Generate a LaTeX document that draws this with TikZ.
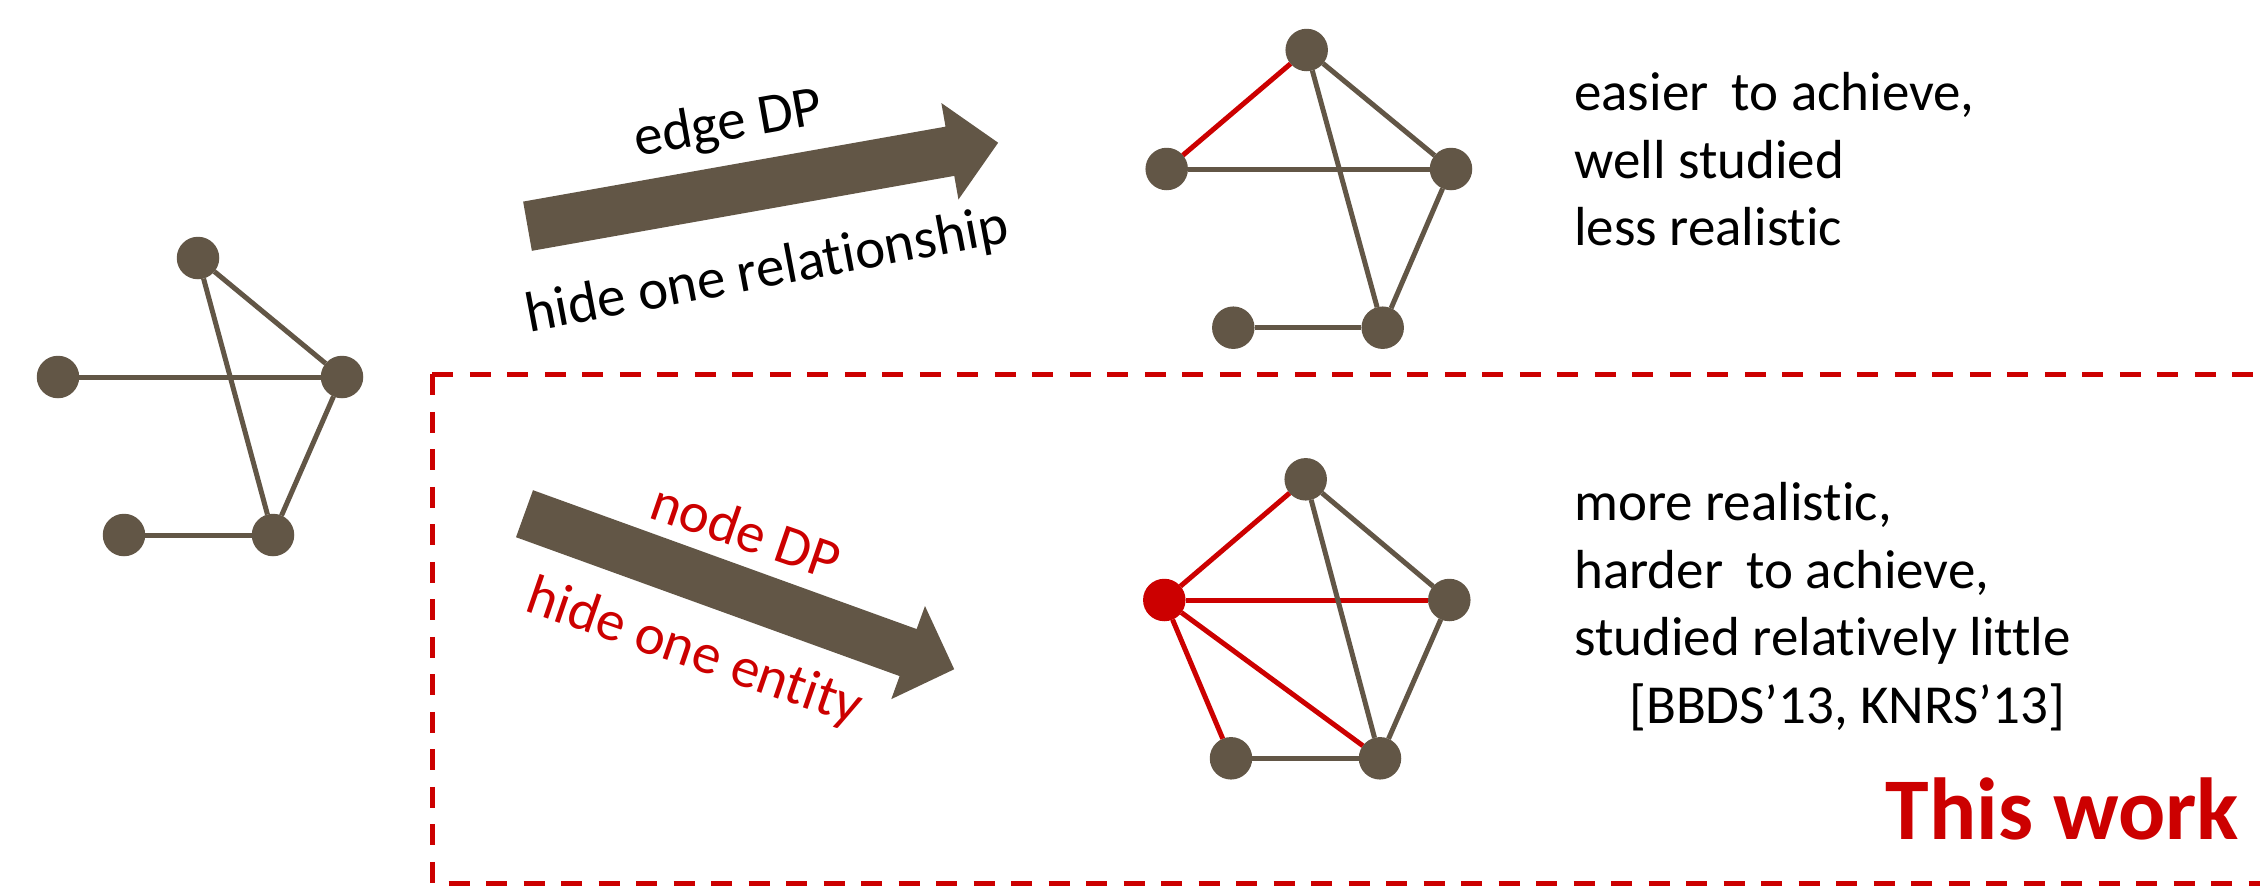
\documentclass[tikz,border=0pt]{standalone}
\usepackage{fontspec}
\setmainfont[Ligatures=NoCommon]{Carlito}
\definecolor{graphbrown}{HTML}{625646}
\definecolor{workred}{HTML}{CC0000}
\newcommand\widegap{\hspace{0.42em}}
\tikzset{
  vtx/.style={circle, fill=graphbrown, minimum size=42.5pt, inner sep=0pt, outer sep=0pt},
  hotvtx/.style={vtx, fill=workred},
  link/.style={draw=graphbrown, line width=5pt},
  hotlink/.style={draw=workred, line width=5pt},
  bigarrow/.style={fill=graphbrown},
  lbl/.style={inner sep=0pt, font=\fontsize{55}{67.5}\selectfont},
  arrowlbl/.style={lbl, font=\fontsize{57}{67.5}\selectfont},
  redlbl/.style={arrowlbl, text=workred},
  worklbl/.style={inner sep=0pt, text=workred, font=\fontsize{88}{100}\selectfont\bfseries},
  workframe/.style={draw=workred, line width=5pt, dash pattern=on 21pt off 16.5pt}
}
\begin{document}
\begin{tikzpicture}[x=1pt,y=-1pt]
\useasboundingbox (0,0) rectangle (2260,886);

% original graph
\node[vtx] (a1) at (198,258) {};
\node[vtx] (a2) at (58,377) {};
\node[vtx] (a3) at (342,377) {};
\node[vtx] (a4) at (273,535) {};
\node[vtx] (a5) at (124,535) {};
\draw[link] (a1) -- (a3);
\draw[link] (a1) -- (a4);
\draw[link] (a2) -- (a3);
\draw[link] (a3) -- (a4);
\draw[link] (a5) -- (a4);

% edge-neighbouring graph
\node[vtx] (b1) at (1306.7,50) {};
\node[vtx] (b2) at (1166.7,169) {};
\node[vtx] (b3) at (1451,169) {};
\node[vtx] (b4) at (1382.7,327.7) {};
\node[vtx] (b5) at (1233.3,327.7) {};
\draw[hotlink] (b1) -- (b2);
\draw[link] (b1) -- (b3);
\draw[link] (b1) -- (b4);
\draw[link] (b2) -- (b3);
\draw[link] (b3) -- (b4);
\draw[link] (b5) -- (b4);

% node-neighbouring graph
\node[vtx] (c1) at (1305.7,479.3) {};
\node[hotvtx] (c2) at (1164.3,600) {};
\node[vtx] (c3) at (1449.3,600) {};
\node[vtx] (c4) at (1380,758.3) {};
\node[vtx] (c5) at (1231,758.3) {};
\draw[hotlink] (c2) -- (c1);
\draw[hotlink] (c2) -- (c3);
\draw[hotlink] (c2) -- (c4);
\draw[hotlink] (c2) -- (c5);
\draw[link] (c1) -- (c3);
\draw[link] (c1) -- (c4);
\draw[link] (c3) -- (c4);
\draw[link] (c5) -- (c4);

% block arrows
\begin{scope}[shift={(527.5,226.2)}, rotate=10.06]
  \fill[bigarrow] (0,-25) -- (429,-25) -- (429,-49) -- (478,0) -- (429,49) -- (429,25) -- (0,25) -- cycle;
\end{scope}
\begin{scope}[shift={(524.5,513.7)}, rotate=-19.9]
  \fill[bigarrow] (0,-25) -- (408,-25) -- (408,-49.5) -- (457,0) -- (408,49.5) -- (408,25) -- (0,25) -- cycle;
\end{scope}

% arrow labels
\node[arrowlbl, anchor=base, rotate=10] (edgedp) at (731,140) {edge DP};
\node[arrowlbl, anchor=base, rotate=10.7] (hiderel) at (770,287) {hide one relationship};
\node[redlbl, anchor=base, rotate=-19] (nodedp) at (740,549) {node DP};
\node[redlbl, anchor=base, rotate=-19] (hideent) at (689,668) {hide one entity};

% remarks on edge DP
\node[lbl, anchor=base west] (e1) at (1574,110) {easier\widegap to achieve,};
\node[lbl, anchor=base west] (e2) at (1574,178.3) {well studied};
\node[lbl, anchor=base west] (e3) at (1574,245.5) {less realistic};

% remarks on node DP
\node[lbl, anchor=base west] (n1) at (1574,520) {more realistic,};
\node[lbl, anchor=base west] (n2) at (1574,588.3) {harder\widegap to achieve,};
\node[lbl, anchor=base west] (n3) at (1574,655.5) {studied relatively little};
\node[lbl, anchor=base west] (n4) at (1629,723.3) {[BBDS’13, KNRS’13]};

% frame around the new setting
\coordinate (ftl) at (432.3,374.3);
\coordinate (ftr) at (2260,374.3);
\coordinate (fbl) at (432.3,883);
\coordinate (fbr) at (2260,883);
\draw[workframe] (ftl) -- (ftr);
\draw[workframe] (ftl) -- (fbl) -- (fbr);
\node[worklbl, anchor=base east] (thiswork) at (2239,839.3) {This work};
\end{tikzpicture}
\end{document}
